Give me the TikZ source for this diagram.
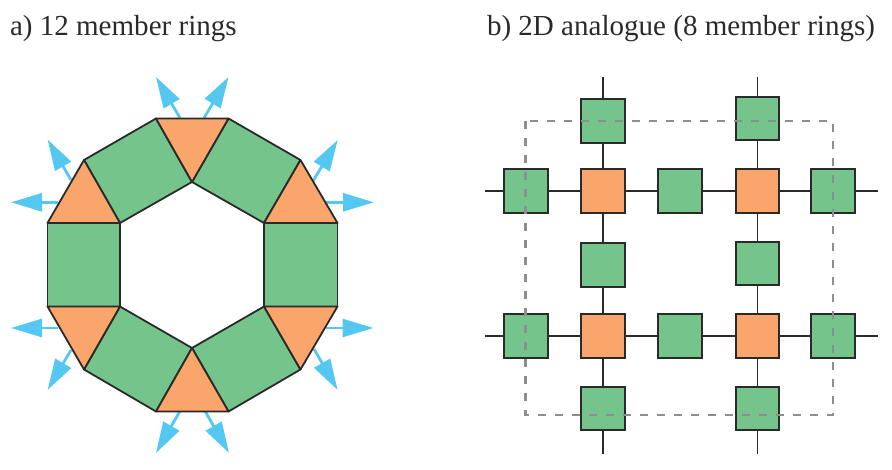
\documentclass[tikz,border=0pt]{standalone}
\usepackage{fontspec}
\setmainfont{Liberation Serif}
\usepackage{xcolor}
\usepackage{tikz}
\usetikzlibrary{positioning, arrows.meta}
\definecolor{unitgreen}{HTML}{74C48B}
\definecolor{unitorange}{HTML}{FAA56C}
\definecolor{extblue}{HTML}{55C8F1}
\definecolor{edgedark}{HTML}{2A2A2A}
\definecolor{framegray}{HTML}{8E8E8E}
\tikzset{
    titlenode/.style  = {anchor=base west, inner sep=0pt, outer sep=0pt, text=edgedark,
                         font=\fontsize{29.05}{32}\selectfont},
    greenface/.style  = {draw=edgedark, fill=unitgreen, line width=1.8pt, line join=round},
    orangeface/.style = {draw=edgedark, fill=unitorange, line width=1.8pt, line join=round},
    linknode/.style   = {draw=edgedark, line width=2pt, minimum size=43.5pt,
                         inner sep=0pt, outer sep=0pt},
    greennode/.style  = {linknode, fill=unitgreen},
    orangenode/.style = {linknode, fill=unitorange},
    linkedge/.style   = {draw=edgedark, line width=1.8pt},
    growth/.style     = {-{Triangle[length=31pt, width=18pt]}, extblue, line width=2.8pt},
    cellframe/.style  = {framegray, line width=2.6pt, dash pattern=on 8pt off 9pt},
}

\begin{document}
\begin{tikzpicture}[x=1pt, y=-1pt]
\useasboundingbox (0,0) rectangle (892,470);

\node[titlenode] (titleA) at (10,35.5) {a) 12 member rings};
\node[titlenode] (titleB) at (487,35.5) {b) 2D analogue (8 member rings)};

% ring outline, outer corners
\coordinate (oTL) at (156,118.5);
\coordinate (oTR) at (228.5,118.5);
\coordinate (oUR) at (300.5,160);
\coordinate (oRT) at (337.5,223);
\coordinate (oRB) at (337.5,306.5);
\coordinate (oLR) at (300.5,369.5);
\coordinate (oBR) at (228.5,411.5);
\coordinate (oBL) at (156,411.5);
\coordinate (oLL) at (84,369.5);
\coordinate (oLB) at (47.5,306.5);
\coordinate (oLT) at (47.5,223);
\coordinate (oUL) at (84,160);
% inner hexagon
\coordinate (iT) at (192,182);
\coordinate (iTR) at (264,223);
\coordinate (iBR) at (264,306.5);
\coordinate (iB) at (192,348);
\coordinate (iBL) at (120,306.5);
\coordinate (iTL) at (120,223);

% free ends of the blue arrows
\foreach \name/\sx/\sy/\tx/\ty in {
    n1/180/118/156/77, n2/204/118/228.5/77,
    n3/313/181/337.7/140, n4/326/202.3/374/202.3,
    n5/326/328/373.5/328, n6/314/349/337.6/390,
    n7/205/411/229/453, n8/180/411/156/453,
    n9/71/350/47.6/390, n10/58/328/11/328,
    n11/58/202.3/11/202.3, n12/71/180/47.6/139.5}{
    \coordinate (\name s) at (\sx,\sy);
    \coordinate (\name t) at (\tx,\ty);
    \draw[growth] (\name s) -- (\name t);
}

\draw[greenface] (oTL) -- (iT) -- (iTL) -- (oUL) -- cycle;
\draw[greenface] (oTR) -- (iT) -- (iTR) -- (oUR) -- cycle;
\draw[greenface] (iTR) -- (oRT) -- (oRB) -- (iBR) -- cycle;
\draw[greenface] (iBR) -- (oLR) -- (oBR) -- (iB) -- cycle;
\draw[greenface] (iB) -- (oBL) -- (oLL) -- (iBL) -- cycle;
\draw[greenface] (iBL) -- (oLB) -- (oLT) -- (iTL) -- cycle;

\draw[orangeface] (oTL) -- (oTR) -- (iT) -- cycle;
\draw[orangeface] (oUR) -- (oRT) -- (iTR) -- cycle;
\draw[orangeface] (oRB) -- (oLR) -- (iBR) -- cycle;
\draw[orangeface] (oBR) -- (oBL) -- (iB) -- cycle;
\draw[orangeface] (oLL) -- (oLB) -- (iBL) -- cycle;
\draw[orangeface] (oLT) -- (oUL) -- (iTL) -- cycle;

% square lattice
\node[orangenode] (coreA) at (603,191.2) {};
\node[orangenode] (coreB) at (757.5,191.2) {};
\node[orangenode] (coreC) at (603,336) {};
\node[orangenode] (coreD) at (757.5,336) {};

\node[greennode, left=33.7pt of coreA] (leftA) {};
\node[greennode, right=33.5pt of coreA] (midAB) {};
\node[greennode, right=32pt of coreB] (rightB) {};
\node[greennode, above=26.7pt of coreA] (topA) {};
\node[greennode, above=29.4pt of coreB] (topB) {};
\node[greennode, below=30.3pt of coreA] (midAC) {};
\node[greennode, below=29pt of coreB] (midBD) {};
\node[greennode, left=33.7pt of coreC] (leftC) {};
\node[greennode, right=33.5pt of coreC] (midCD) {};
\node[greennode, right=32pt of coreD] (rightD) {};
\node[greennode, below=29pt of coreC] (botC) {};
\node[greennode, below=29pt of coreD] (botD) {};

\coordinate (stubAt) at (603,77);
\coordinate (stubBt) at (757.5,77);
\coordinate (stubCb) at (603,453.5);
\coordinate (stubDb) at (757.5,453.5);
\coordinate (stubAl) at (485,191.2);
\coordinate (stubCl) at (485,336);
\coordinate (stubBr) at (878,191.2);
\coordinate (stubDr) at (878,336);

\foreach \a/\b in {stubAt/topA, topA/coreA, coreA/midAC, midAC/coreC, coreC/botC, botC/stubCb,
                   stubBt/topB, topB/coreB, coreB/midBD, midBD/coreD, coreD/botD, botD/stubDb,
                   stubAl/leftA, leftA/coreA, coreA/midAB, midAB/coreB, coreB/rightB, rightB/stubBr,
                   stubCl/leftC, leftC/coreC, coreC/midCD, midCD/coreD, coreD/rightD, rightD/stubDr}
    \draw[linkedge] (\a) -- (\b);

% unit cell
\coordinate (frameNW) at (525.6,121);
\coordinate (frameSE) at (833,415);
\draw[cellframe] (frameNW) rectangle (frameSE);

\end{tikzpicture}
\end{document}
